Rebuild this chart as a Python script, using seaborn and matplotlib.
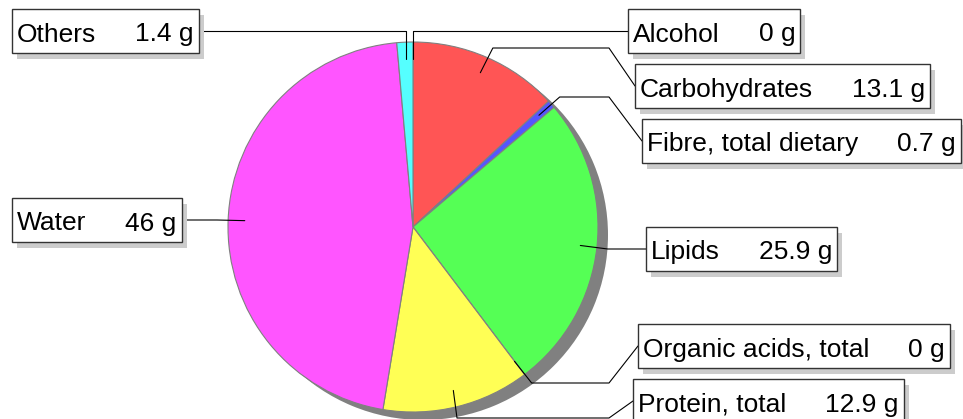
import numpy as np
import matplotlib
matplotlib.use('Agg')
import matplotlib.pyplot as plt
from matplotlib.patches import Rectangle
import seaborn as sns

sns.set_theme(style='white')
plt.rcParams['font.family'] = ['Liberation Sans', 'DejaVu Sans']

# composition per 100 g
nutrients = ['Alcohol', 'Carbohydrates', 'Fibre, total dietary', 'Lipids',
             'Organic acids, total', 'Protein, total', 'Water', 'Others']
grams = [0, 13.1, 0.7, 25.9, 0, 12.9, 46, 1.4]
value_text = ['0 g', '13.1 g', '0.7 g', '25.9 g', '0 g', '12.9 g', '46 g', '1.4 g']
slice_colors = ['#aaaaaa', '#ff5555', '#5555ff', '#55ff55',
                '#aaaaaa', '#ffff55', '#ff55ff', '#55ffff']

# layout in image pixels (y down): side, box x, box centre y, y of leader elbow
label_layout = [
    ('right', 628, 31, 31),
    ('right', 635, 86, 48),
    ('right', 642, 141, 97),
    ('right', 646, 249, 249),
    ('right', 638, 346, 383),
    ('right', 633, 401, 418),
    ('left', 12, 220, 220),
    ('left', 12, 31, 31),
]

W, H = 963, 419
CX, CY, R = 413, 227, 185
R_ELBOW = 196
BOX_H = 44
PAD, GAP = 5, 39

fig = plt.figure(figsize=(W / 100, H / 100), dpi=100)
ax = fig.add_axes([0, 0, 1, 1])

# shadow of the pie
ax.pie([sum(grams)], colors=['#808080'], center=(CX + 10, H - CY - 8), radius=R,
       wedgeprops=dict(linewidth=0))
ax.pie(grams, colors=slice_colors, startangle=90, counterclock=False,
       center=(CX, H - CY), radius=R,
       wedgeprops=dict(edgecolor='#808080', linewidth=0.8))

ax.set_xlim(0, W)
ax.set_ylim(0, H)
ax.axis('off')

# text first, to measure box widths
name_objs, val_objs = [], []
for i, (side, bx, cy, ly) in enumerate(label_layout):
    base = H - (cy + 10.5)
    t1 = ax.text(bx + PAD, base, nutrients[i], fontsize=19, va='baseline', ha='left',
                 color='black', zorder=6)
    t2 = ax.text(bx, base, value_text[i], fontsize=19, va='baseline', ha='right',
                 color='black', zorder=6)
    name_objs.append(t1)
    val_objs.append(t2)

fig.canvas.draw()
renderer = fig.canvas.get_renderer()

total = sum(grams)
cum = np.concatenate([[0], np.cumsum(grams)[:-1]])
for i, (side, bx, cy, ly) in enumerate(label_layout):
    wn = name_objs[i].get_window_extent(renderer).width
    wv = val_objs[i].get_window_extent(renderer).width
    bw = PAD + wn + GAP + wv + PAD
    val_objs[i].set_x(bx + bw - PAD)

    # box with its shadow
    ax.add_patch(Rectangle((bx + 5, H - (cy + BOX_H / 2) - 6), bw, BOX_H,
                           facecolor='#cccccc', edgecolor='none', zorder=3))
    ax.add_patch(Rectangle((bx, H - (cy + BOX_H / 2)), bw, BOX_H,
                           facecolor='white', edgecolor='#333333', linewidth=1.0, zorder=4))

    # leader line: anchor inside slice -> elbow -> horizontal -> box edge
    theta = np.deg2rad(360 * (cum[i] + grams[i] / 2) / total)
    axp = CX + 0.91 * R * np.sin(theta)
    ayp = CY - 0.91 * R * np.cos(theta)
    sgn = 1 if side == 'right' else -1
    dy = ly - CY
    ex = CX + sgn * np.sqrt(max(R_ELBOW ** 2 - dy ** 2, 0))
    if sgn * (ex - axp) < 0:
        ex = axp
    hx = CX + sgn * R_ELBOW
    edge_x = bx if side == 'right' else bx + bw
    xs = [axp, ex, hx, edge_x]
    ys = [ayp, ly, ly, cy]
    ax.plot(xs, [H - y for y in ys], color='black', linewidth=0.8, zorder=2.5)

fig.savefig('out.png', dpi=100)
